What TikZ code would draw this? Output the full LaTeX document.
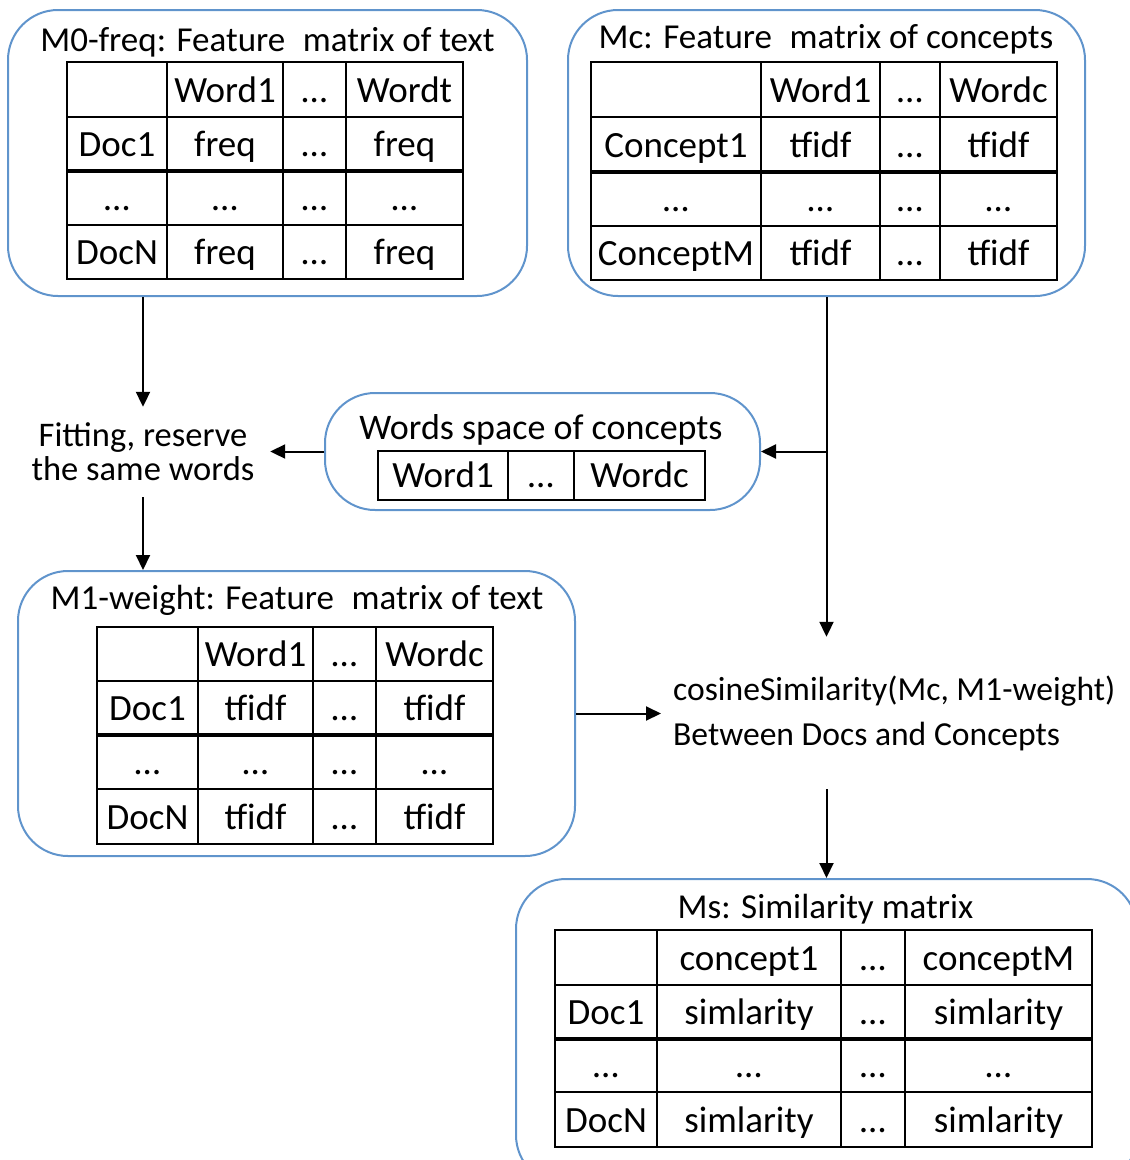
\documentclass[tikz,border=0pt]{standalone}
\usepackage{fontspec}
\setmainfont{Carlito}
\usetikzlibrary{arrows.meta,calc}
\definecolor{boxblue}{RGB}{96,148,204}
\tikzset{
  panel/.style={draw=boxblue, line width=2pt, rounded corners=50pt, inner sep=0pt},
  title/.style={font=\fontsize{35}{42}\selectfont, anchor=base, inner sep=0pt},
  cell/.style={font=\fontsize{37}{44}\selectfont, anchor=base, inner sep=0pt},
  rule/.style={line width=1.8pt, black},
  heavyrule/.style={line width=3.8pt, black},
  flow/.style={line width=2pt, -{Triangle[length=15pt,width=14pt]}},
  note/.style={font=\fontsize{34.5}{34}\selectfont, align=center, inner sep=0pt},
}
\newcommand{\gap}{\hspace{0.5em}}
\begin{document}
\begin{tikzpicture}[x=1pt,y=-1pt]
\useasboundingbox (0,0) rectangle (1130,1160);
\clip (0,0) rectangle (1130,1160);

% ---------- panels ----------
\node[panel, minimum width=519pt, minimum height=286pt] (m0) at (267.5,153) {};
\node[panel, minimum width=517pt, minimum height=286pt] (mc) at (826.5,153) {};
\node[panel, minimum width=435pt, minimum height=117pt] (words) at (542.5,451.5) {};
\node[panel, minimum width=557pt, minimum height=285pt] (m1) at (296.5,713.5) {};
\node[panel, minimum width=621pt, minimum height=306pt] (ms) at (826.5,1032) {};

% ---------- M0-freq ----------
\node[title] (m0-title) at (267.5,51) {M0-freq: Feature\gap matrix of text};
\draw[rule] (67,62) rectangle (463,279);
\foreach \x in {167,283,346} \draw[rule] (\x,62) -- (\x,279);
\foreach \y in {117,225} \draw[rule] (67,\y) -- (463,\y);
\draw[heavyrule] (67,171) -- (463,171);
\foreach \cx/\t [count=\i] in {225/Word1,314.5/…,404.5/Wordt}
  \node[cell] (m0-h\i) at (\cx,102) {\t};
\foreach \cx/\t [count=\i] in {117/Doc1,225/freq,314.5/…,404.5/freq}
  \node[cell] (m0-a\i) at (\cx,156) {\t};
\foreach \cx/\t [count=\i] in {117/…,225/…,314.5/…,404.5/…}
  \node[cell] (m0-b\i) at (\cx,210) {\t};
\foreach \cx/\t [count=\i] in {117/DocN,225/freq,314.5/…,404.5/freq}
  \node[cell] (m0-c\i) at (\cx,264) {\t};

% ---------- Mc ----------
\node[title] (mc-title) at (826,48) {Mc: Feature\gap matrix of concepts};
\draw[rule] (591,62) rectangle (1057,280);
\foreach \x in {761,880,940} \draw[rule] (\x,62) -- (\x,280);
\foreach \y in {117,226} \draw[rule] (591,\y) -- (1057,\y);
\draw[heavyrule] (591,172) -- (1057,172);
\foreach \cx/\t [count=\i] in {820.5/Word1,910/…,998.5/Wordc}
  \node[cell] (mc-h\i) at (\cx,102) {\t};
\foreach \cx/\t [count=\i] in {676/Concept1,820.5/tfidf,910/…,998.5/tfidf}
  \node[cell] (mc-a\i) at (\cx,157) {\t};
\foreach \cx/\t [count=\i] in {676/…,820.5/…,910/…,998.5/…}
  \node[cell] (mc-b\i) at (\cx,211) {\t};
\foreach \cx/\t [count=\i] in {676/ConceptM,820.5/tfidf,910/…,998.5/tfidf}
  \node[cell] (mc-c\i) at (\cx,265) {\t};

% ---------- words space ----------
\node[title, font=\fontsize{36}{42}\selectfont] (words-title) at (541,439) {Words space of concepts};
\draw[rule] (378,451) rectangle (705,500);
\foreach \x in {508,574} \draw[rule] (\x,451) -- (\x,500);
\foreach \cx/\t [count=\i] in {443/Word1,541/…,639.5/Wordc}
  \node[cell] (words-c\i) at (\cx,487) {\t};

% ---------- fitting step ----------
\node[note, minimum width=254pt, minimum height=90pt] (fit) at (143,452)
  {Fitting, reserve\\the same words};

% ---------- M1-weight ----------
\node[title] (m1-title) at (297,609) {M1-weight: Feature\gap matrix of text};
\draw[rule] (97,627) rectangle (493,844);
\foreach \x in {198,313,376} \draw[rule] (\x,627) -- (\x,844);
\foreach \y in {681,789} \draw[rule] (97,\y) -- (493,\y);
\draw[heavyrule] (97,735) -- (493,735);
\foreach \cx/\t [count=\i] in {255.5/Word1,344.5/…,434.5/Wordc}
  \node[cell] (m1-h\i) at (\cx,666) {\t};
\foreach \cx/\t [count=\i] in {147.5/Doc1,255.5/tfidf,344.5/…,434.5/tfidf}
  \node[cell] (m1-a\i) at (\cx,720) {\t};
\foreach \cx/\t [count=\i] in {147.5/…,255.5/…,344.5/…,434.5/…}
  \node[cell] (m1-b\i) at (\cx,774) {\t};
\foreach \cx/\t [count=\i] in {147.5/DocN,255.5/tfidf,344.5/…,434.5/tfidf}
  \node[cell] (m1-c\i) at (\cx,829) {\t};

% ---------- cosine similarity ----------
\node[font=\fontsize{33.6}{45}\selectfont, align=left, inner xsep=12pt, inner ysep=0pt,
      minimum height=152pt, anchor=west] (cos) at (661,713)
  {cosineSimilarity(Mc, M1-weight)\\Between Docs and Concepts};

% ---------- Ms ----------
\node[title] (ms-title) at (825.5,918) {Ms: Similarity matrix};
\draw[rule] (555,930) rectangle (1092,1147);
\foreach \x in {657,841,905} \draw[rule] (\x,930) -- (\x,1147);
\foreach \y in {985,1092} \draw[rule] (555,\y) -- (1092,\y);
\draw[heavyrule] (555,1039) -- (1092,1039);
\foreach \cx/\t [count=\i] in {749/concept1,873/…,998.5/conceptM}
  \node[cell] (ms-h\i) at (\cx,970) {\t};
\foreach \cx/\t [count=\i] in {606/Doc1,749/simlarity,873/…,998.5/simlarity}
  \node[cell] (ms-a\i) at (\cx,1024) {\t};
\foreach \cx/\t [count=\i] in {606/…,749/…,873/…,998.5/…}
  \node[cell] (ms-b\i) at (\cx,1077) {\t};
\foreach \cx/\t [count=\i] in {606/DocN,749/simlarity,873/…,998.5/simlarity}
  \node[cell] (ms-c\i) at (\cx,1132) {\t};

% ---------- connectors ----------
\draw[flow] (fit.north |- m0.south) -- (fit.north);
\draw[flow] (fit.south) -- (fit.south |- m1.north);
\draw[flow] (words.west) -- (words.west -| fit.east);
\draw[flow] (mc.south) -- (mc.south |- cos.north);
\draw[flow] (mc.south |- words.east) -- (words.east);
\draw[flow] (m1.east) -- (m1.east -| cos.west);
\draw[flow] (ms.north |- cos.south) -- (ms.north);
\end{tikzpicture}
\end{document}
